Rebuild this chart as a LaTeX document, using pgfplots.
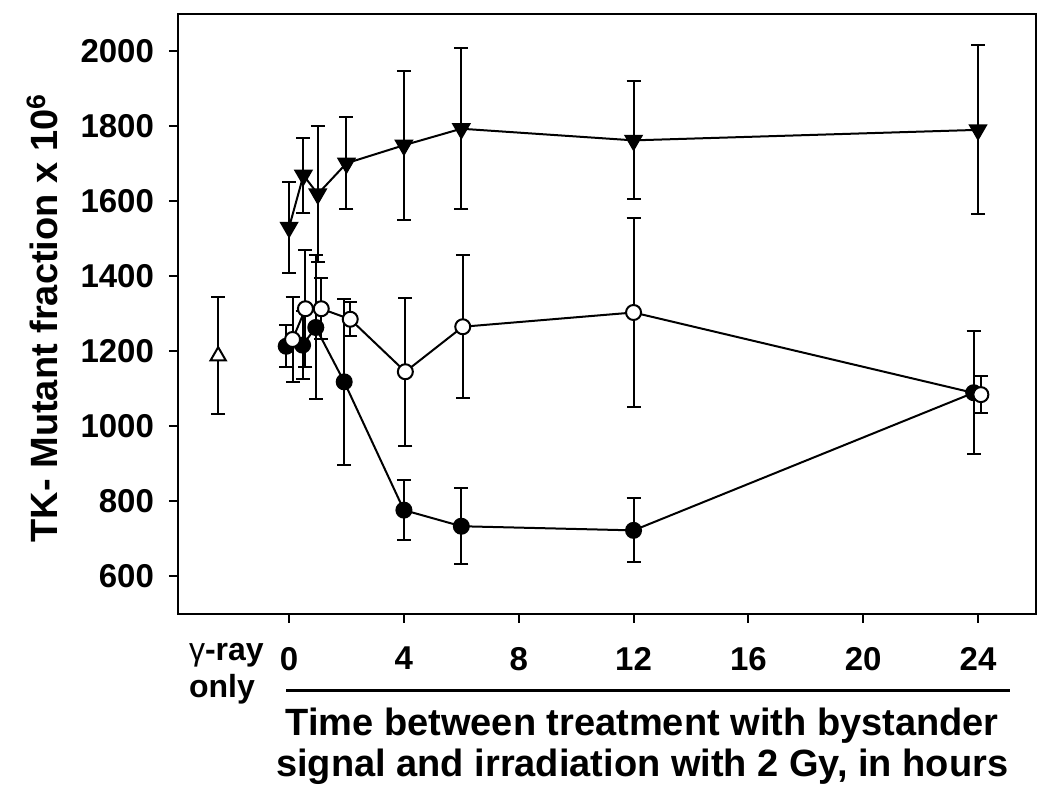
\documentclass[border=0pt]{standalone}
\usepackage{pgfplots}
\pgfplotsset{compat=1.18}
\usepackage{fontspec}
\setmainfont{Liberation Sans}
\newcommand{\lab}{\fontsize{19}{22}\selectfont\bfseries}
\newcommand{\tk}{\fontsize{16.5}{19}\selectfont\bfseries}
\newcommand{\gk}{\fontsize{16}{19}\selectfont\bfseries}
\begin{document}
\begin{tikzpicture}
\path[use as bounding box] (-89pt,-91pt) rectangle (436pt,307pt);
\begin{axis}[
  at={(0,0)}, anchor=south west,
  width=429pt, height=300pt, scale only axis,
  xmin=-3.87, xmax=26.02, ymin=500, ymax=2100,
  xtick={0,4,...,24}, ytick={600,800,...,2000},
  tick pos=left, tick align=outside, major tick length=4.5pt,
  every tick/.style={black, line width=1pt},
  axis line style={line width=1.2pt},
  /pgf/number format/assume math mode=true,
  /pgf/number format/1000 sep={},
  xticklabel style={font=\tk, yshift=-8.5pt},
  yticklabel style={font=\tk, xshift=-4pt},
  clip=false,
]
% triangles (down, filled)
\addplot[black, line width=1pt, mark=triangle*, mark size=4.6pt,
  mark options={rotate=180, solid, fill=black},
  error bars/.cd, y dir=both, y explicit,
  error bar style={line width=1pt},
  error mark options={rotate=90, mark size=3.5pt, line width=1pt}]
  table[x=x, y=y, y error=e] {
x y e
0 1531 121
0.5 1670 100
1 1620 182
2 1702 123
4 1750 199
6 1794 214
12 1763 157
24 1791 225
};
% filled circles
\addplot[black, line width=1pt, mark=*, mark size=3.75pt,
  mark options={solid, fill=black},
  error bars/.cd, y dir=both, y explicit,
  error bar style={line width=1pt},
  error mark options={rotate=90, mark size=3.5pt, line width=1pt}]
  table[x=x, y=y, y error=e] {
x y e
-0.1 1214 56
0.47 1217 90
0.93 1264 192
1.92 1119 221
4 777 79
6 734 101
12 723 85
23.85 1090 164
};
% open circles
\addplot[black, line width=1pt, mark=*, mark size=3.75pt,
  mark options={solid, fill=white},
  error bars/.cd, y dir=both, y explicit,
  error bar style={line width=1pt},
  error mark options={rotate=90, mark size=3.5pt, line width=1pt}]
  table[x=x, y=y, y error=e] {
x y e
0.12 1232 113
0.57 1314 156
1.12 1314 81
2.13 1286 45
4.05 1146 197
6.05 1266 190
12 1304 251
24.1 1085 50
};
% gamma-ray only
\addplot[black, line width=1pt, only marks, mark=triangle*, mark size=4.4pt,
  mark options={solid, fill=white},
  error bars/.cd, y dir=both, y explicit,
  error bar style={line width=1pt},
  error mark options={rotate=90, mark size=3.5pt, line width=1pt}]
  table[x=x, y=y, y error=e] {
x y e
-2.47 1188 156
};
\draw[line width=1.5pt] (axis cs:-0.1,297) -- (axis cs:25.1,297);
\node[font=\gk, anchor=base west, inner sep=0pt] at (axis cs:-3.5,377) {{\mdseries γ}-ray};
\node[font=\gk, anchor=base west, inner sep=0pt] at (axis cs:-3.5,278) {only};
\node[font=\lab, anchor=base, inner sep=0pt] at (axis cs:12.3,177) {Time between treatment with bystander};
\node[font=\lab, anchor=base, inner sep=0pt] at (axis cs:12.3,65.6) {signal and irradiation with 2 Gy, in hours};
\node[font=\lab, rotate=90, inner sep=0pt] at (axis cs:-8.6,1289) {TK- Mutant fraction x 10\textsuperscript{6}};
\end{axis}
\end{tikzpicture}
\end{document}
